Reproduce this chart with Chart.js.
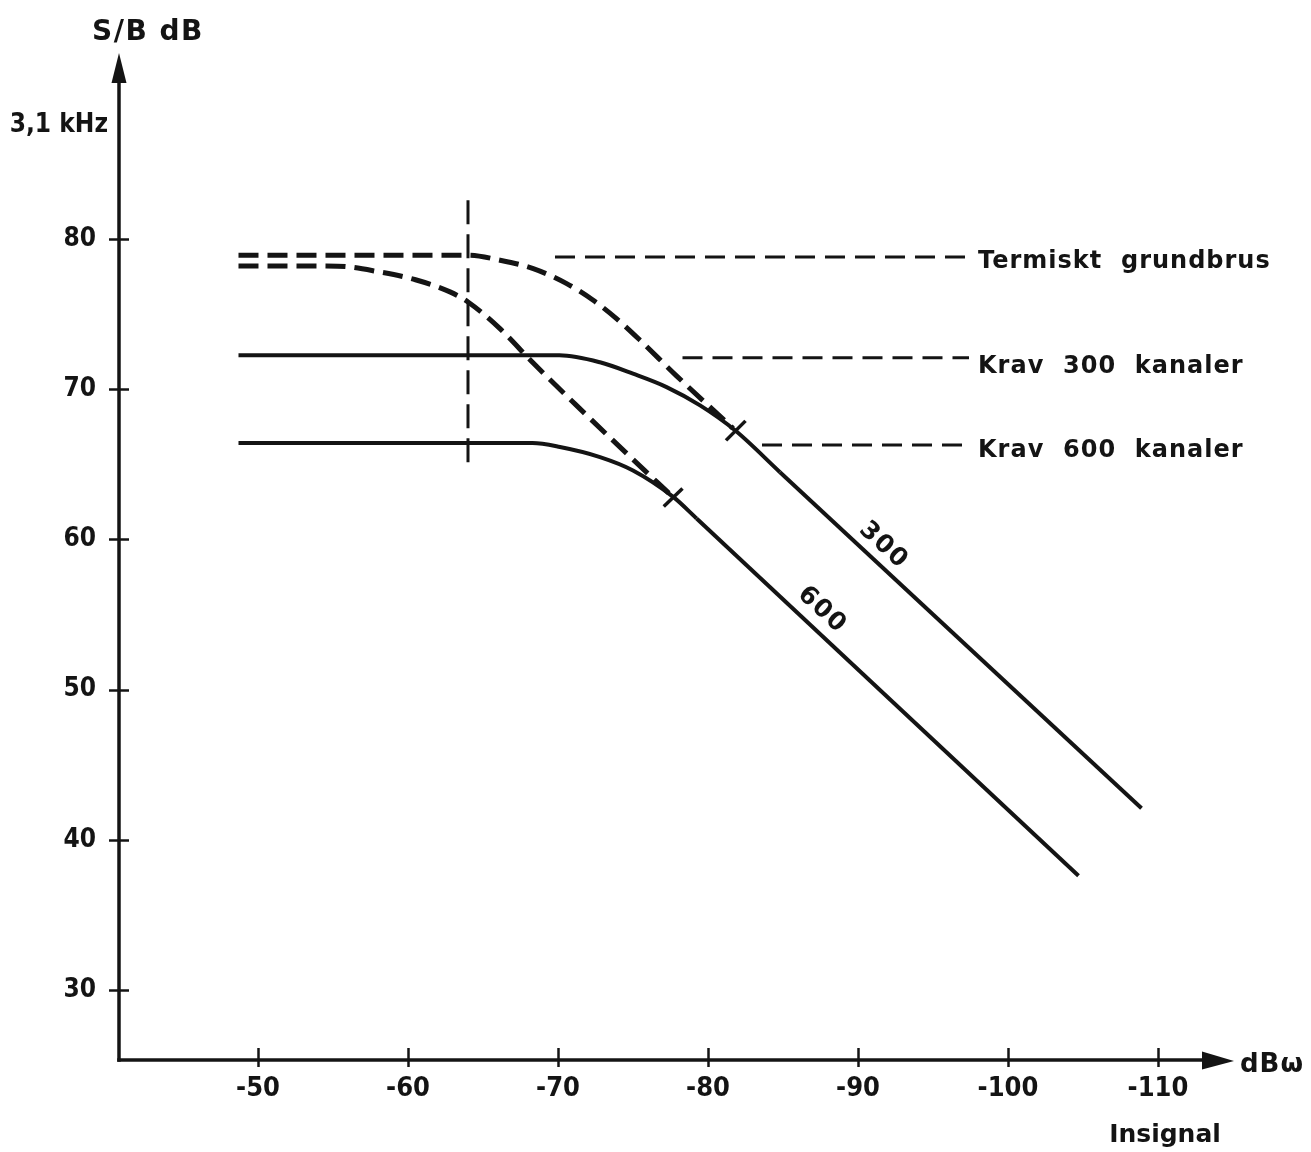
<!DOCTYPE html>
<html>
<head>
<meta charset="utf-8">
<script src="https://cdn.jsdelivr.net/npm/chart.js@4/dist/chart.umd.min.js"></script>
<style>
  html, body { margin: 0; padding: 0; background: #ffffff; }
  canvas { display: block; }
</style>
</head>
<body>
<canvas id="c" width="1311" height="1152"></canvas>
<script>
// ---------- data ----------
const xTickValues = [-50, -60, -70, -80, -90, -100, -110];
const yTickValues = [30, 40, 50, 60, 70, 80];

// solid curve, 300 channels: flat part and knee, then the straight tail
const curve300KneeX = [-48.7, -70.1, -72.8, -75.0, -77.24, -79.47, -81.8, -84.8];
const curve300KneeY = [72.27, 72.27, 71.8, 71.04, 70.15, 68.93, 67.27, 64.48];
const curve300TailX = [-84.8, -108.9];
const curve300TailY = [64.48, 42.1];

// solid curve, 600 channels: flat part and knee, then the straight tail
const curve600KneeX = [-48.7, -68.3, -70.13, -72.8, -75.0, -77.7, -79.24];
const curve600KneeY = [66.42, 66.42, 66.16, 65.49, 64.6, 62.82, 61.4];
const curve600TailX = [-79.24, -104.7];
const curve600TailY = [61.4, 37.6];

// dashed curves, thermal basic noise
const thermalUpperX = [-48.7, -64.0, -66.13, -68.35, -70.58, -72.35, -73.9, -75.47, -77.9, -81.67];
const thermalUpperY = [78.93, 78.93, 78.6, 78.04, 77.04, 75.93, 74.71, 73.27, 70.9, 67.4];
const thermalLowerX = [-48.7, -55.3, -58.2, -60.5, -62.8, -64.0, -66.13, -68.35, -71.47, -74.6, -77.67];
const thermalLowerY = [78.22, 78.2, 77.8, 77.3, 76.49, 75.82, 74.04, 71.75, 68.7, 65.71, 62.82];

// vertical dashed reference line
const refLineX = [-64, -64];
const refLineY = [82.6, 64.5];

// dashed leader lines to the labels on the right
const leaderThermX = [-69.8, -97.4];
const leaderThermY = [78.82, 78.82];
const leader300X = [-78.3, -97.4];
const leader300Y = [72.11, 72.11];
const leader600X = [-83.6, -97.4];
const leader600Y = [66.3, 66.3];

// small cross marks where the dashed curves meet the solid curves
const mark300X = [-81.2, -82.5];
const mark300Y = [66.6, 67.9];
const mark600X = [-77.05, -78.3];
const mark600Y = [62.2, 63.4];

// text
const labelTexts = ['Termiskt  grundbrus', 'Krav  300  kanaler', 'Krav  600  kanaler'];
const labelX = [-98.0, -98.0, -98.0];
const labelY = [78.07, 71.07, 65.47];
const curveLabelTexts = ['300', '600'];
const curveLabelX = [-91.7, -87.6];
const curveLabelY = [59.6, 55.3];

// ---------- styling ----------
const ink = '#141414';
const condFont = "'DejaVu Sans Condensed', 'DejaVu Sans', sans-serif";
const textFont = "'DejaVu Sans', sans-serif";

function pts(xs, ys) { return xs.map((v, i) => ({ x: v, y: ys[i] })); }
function ds(xs, ys, width, dash, smooth) {
  return {
    data: pts(xs, ys),
    showLine: true,
    borderColor: ink,
    backgroundColor: ink,
    borderWidth: width,
    borderDash: dash || [],
    borderCapStyle: 'butt',
    borderJoinStyle: 'round',
    pointRadius: 0,
    pointHoverRadius: 0,
    fill: false,
    tension: 0,
    cubicInterpolationMode: smooth ? 'monotone' : 'default',
    clip: false
  };
}

const decor = {
  id: 'decor',
  afterDraw(chart) {
    const { ctx, chartArea: ca, scales } = chart;
    const xs = scales.x, ys = scales.y;
    ctx.save();
    ctx.strokeStyle = ink;
    ctx.fillStyle = ink;
    ctx.lineCap = 'butt';

    // axes
    const ax = ca.left + 1;
    const ay = ca.bottom;
    ctx.lineWidth = 3.5;
    ctx.beginPath();
    ctx.moveTo(ax, ay + 1.75);
    ctx.lineTo(ax, ca.top + 20);
    ctx.stroke();
    ctx.beginPath();
    ctx.moveTo(ax - 1.75, ay);
    ctx.lineTo(ca.right + 6, ay);
    ctx.stroke();

    // arrow heads
    ctx.beginPath();
    ctx.moveTo(ax, ca.top - 2);
    ctx.lineTo(ax - 7.5, ca.top + 28);
    ctx.lineTo(ax + 7.5, ca.top + 28);
    ctx.closePath();
    ctx.fill();
    ctx.beginPath();
    ctx.moveTo(ca.right + 34, ay + 1);
    ctx.lineTo(ca.right + 2, ay - 8.5);
    ctx.lineTo(ca.right + 2, ay + 9.5);
    ctx.closePath();
    ctx.fill();

    // tick marks crossing the axes
    ctx.lineWidth = 2.5;
    xTickValues.forEach(v => {
      const px = Math.round(xs.getPixelForValue(v)) + 0.5;
      ctx.beginPath();
      ctx.moveTo(px, ay - 12);
      ctx.lineTo(px, ay + 7);
      ctx.stroke();
    });
    yTickValues.forEach(v => {
      const py = Math.round(ys.getPixelForValue(v)) + 0.5;
      ctx.beginPath();
      ctx.moveTo(ax - 10, py);
      ctx.lineTo(ax + 10, py);
      ctx.stroke();
    });

    // axis titles
    ctx.textBaseline = 'alphabetic';
    ctx.textAlign = 'left';
    ctx.letterSpacing = '1.5px';
    ctx.font = 'bold 28px ' + textFont;
    ctx.fillText('S/B dB', 92, 40);
    ctx.letterSpacing = '0px';
    ctx.textAlign = 'right';
    ctx.font = 'bold 26px ' + condFont;
    ctx.fillText('3,1 kHz', 108, 132);
    ctx.textAlign = 'left';
    ctx.letterSpacing = '1px';
    ctx.font = 'bold 26px ' + textFont;
    ctx.fillText('dB\u03c9', ca.right + 40, ay + 12);
    ctx.textAlign = 'center';
    ctx.letterSpacing = '0px';
    ctx.font = 'bold 25px ' + textFont;
    ctx.fillText('Insignal', xs.getPixelForValue(-110) + 7, 1142);

    // right-hand labels
    ctx.textAlign = 'left';
    ctx.letterSpacing = '1px';
    ctx.font = 'bold 24px ' + textFont;
    labelTexts.forEach((t, i) => {
      ctx.fillText(t, xs.getPixelForValue(labelX[i]), ys.getPixelForValue(labelY[i]));
    });

    // rotated curve labels
    ctx.letterSpacing = '1.5px';
    ctx.font = 'bold 25px ' + textFont;
    ctx.textAlign = 'center';
    ctx.textBaseline = 'middle';
    curveLabelTexts.forEach((t, i) => {
      ctx.save();
      ctx.translate(xs.getPixelForValue(curveLabelX[i]), ys.getPixelForValue(curveLabelY[i]));
      ctx.rotate(42.6 * Math.PI / 180);
      ctx.fillText(t, 0, 0);
      ctx.restore();
    });
    ctx.restore();
  }
};

new Chart(document.getElementById('c'), {
  type: 'scatter',
  data: {
    datasets: [
      ds(curve300KneeX, curve300KneeY, 4, null, true),
      ds(curve300TailX, curve300TailY, 4, null, false),
      ds(curve600KneeX, curve600KneeY, 4, null, true),
      ds(curve600TailX, curve600TailY, 4, null, false),
      ds(thermalUpperX, thermalUpperY, 5, [20, 9], true),
      ds(thermalLowerX, thermalLowerY, 5, [20, 9], true),
      ds(refLineX, refLineY, 3, [24, 10], false),
      ds(leaderThermX, leaderThermY, 3, [20, 10], false),
      ds(leader300X, leader300Y, 3, [20, 10], false),
      ds(leader600X, leader600Y, 3, [20, 10], false),
      ds(mark300X, mark300Y, 3.5, null, false),
      ds(mark600X, mark600Y, 3.5, null, false)
    ]
  },
  options: {
    responsive: false,
    animation: false,
    devicePixelRatio: 1,
    events: [],
    layout: { padding: { left: 0, top: 55, right: 111, bottom: 0 } },
    plugins: { legend: { display: false }, tooltip: { enabled: false }, title: { display: false } },
    scales: {
      x: {
        type: 'linear',
        position: 'bottom',
        reverse: true,
        min: -112.8,
        max: -40.667,
        grid: { display: false, drawTicks: false },
        border: { display: false },
        afterBuildTicks: s => { s.ticks = xTickValues.map(v => ({ value: v })); },
        afterFit: s => { s.height = 92; },
        ticks: {
          color: ink,
          padding: 13,
          maxRotation: 0,
          autoSkip: false,
          font: { family: condFont, size: 27, weight: 'bold' },
          callback: v => String(v)
        }
      },
      y: {
        type: 'linear',
        position: 'left',
        min: 25.333,
        max: 92.267,
        grid: { display: false, drawTicks: false },
        border: { display: false },
        afterBuildTicks: s => { s.ticks = yTickValues.map(v => ({ value: v })); },
        afterFit: s => { s.width = 118; },
        ticks: {
          color: ink,
          padding: 22,
          autoSkip: false,
          font: { family: condFont, size: 26, weight: 'bold' },
          callback: v => String(v)
        }
      }
    }
  },
  plugins: [decor]
});
</script>
</body>
</html>
